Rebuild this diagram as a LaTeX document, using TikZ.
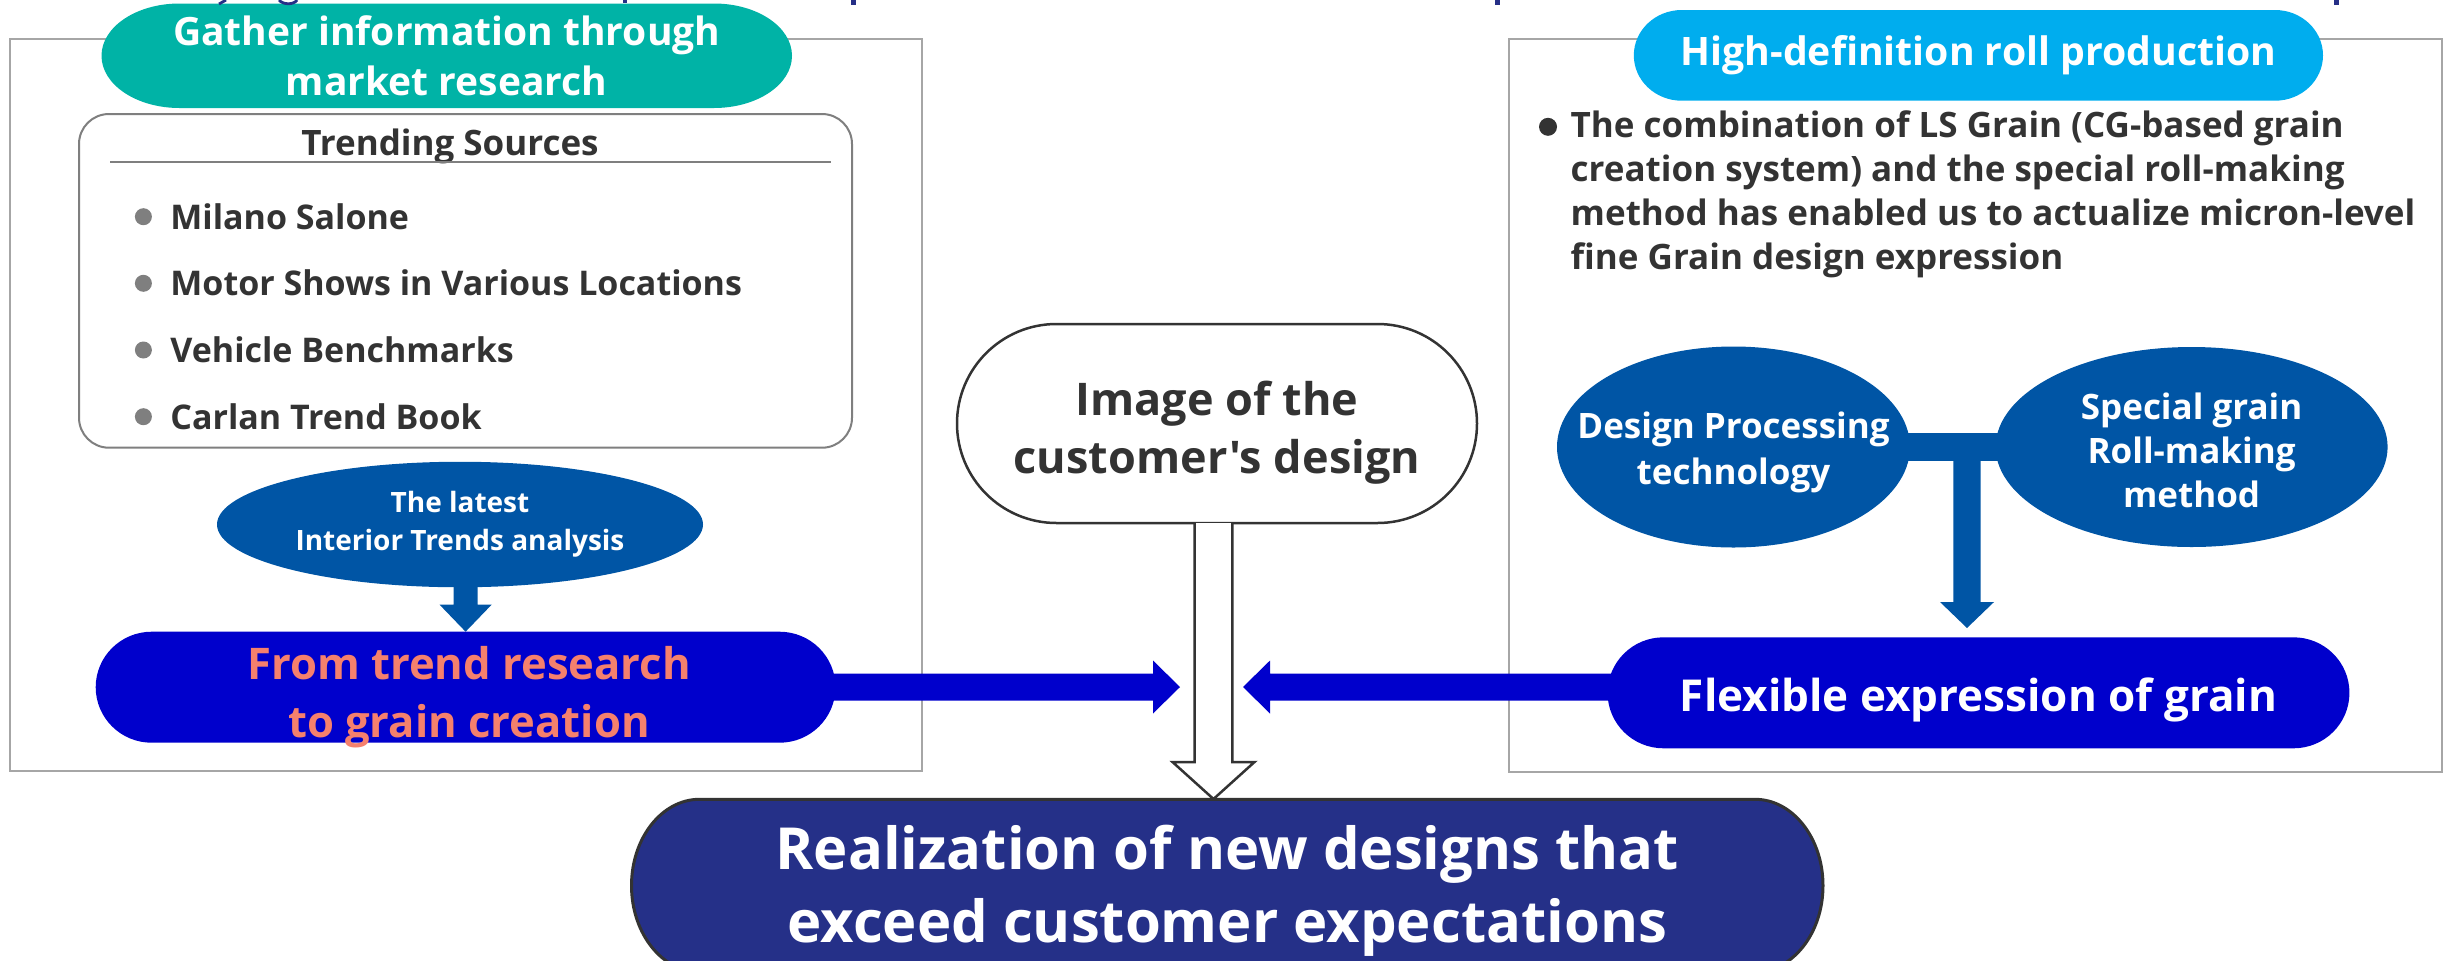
\documentclass[tikz,border=0pt]{standalone}
\usepackage{fontspec}
\setmainfont{Open Sans}
\newfontfamily\nomapfont{Open Sans}[Ligatures=ResetAll]
\usetikzlibrary{calc,shapes.geometric,backgrounds}
\definecolor{teal1}{HTML}{00B3A6}
\definecolor{cyan1}{HTML}{00ADEE}
\definecolor{midblue}{HTML}{0055A5}
\definecolor{pureblue}{HTML}{0000CC}
\definecolor{navy1}{HTML}{253088}
\definecolor{salmon1}{HTML}{F5806D}
\definecolor{txtgray}{HTML}{333333}
\definecolor{panelgray}{HTML}{A6A6A6}
\definecolor{boxgray}{HTML}{7F7F7F}
\definecolor{topnavy}{HTML}{262F87}
% elliptical-ended pill behind node #1, x radius #2, style #3
\newcommand\epill[3]{%
  \path[#3] let \p1=(#1.north east), \p2=(#1.south west), \n1={(\y1-\y2)/2} in
   (\x2+#2,\y1) -- (\x1-#2,\y1) arc[start angle=90,end angle=-90,x radius=#2,y radius=\n1]
   -- (\x2+#2,\y2) arc[start angle=270,end angle=90,x radius=#2,y radius=\n1] -- cycle;}
% fat arrows: #1 from, #2 tip, #3 half shaft, #4 half head, #5 head length, #6 style
\newcommand\fatdown[6]{%
  \path[#6] let \p1=(#1), \p2=(#2) in (\x2-#3,\y1) -- (\x2+#3,\y1) -- (\x2+#3,\y2+#5)
   -- (\x2+#4,\y2+#5) -- (\x2,\y2) -- (\x2-#4,\y2+#5) -- (\x2-#3,\y2+#5) -- cycle;}
\newcommand\fatright[6]{%
  \path[#6] let \p1=(#1), \p2=(#2) in (\x1,\y2+#3) -- (\x2-#5,\y2+#3) -- (\x2-#5,\y2+#4)
   -- (\x2,\y2) -- (\x2-#5,\y2-#4) -- (\x2-#5,\y2-#3) -- (\x1,\y2-#3) -- cycle;}
\newcommand\fatleft[6]{%
  \path[#6] let \p1=(#1), \p2=(#2) in (\x1,\y2+#3) -- (\x2+#5,\y2+#3) -- (\x2+#5,\y2+#4)
   -- (\x2,\y2) -- (\x2+#5,\y2-#4) -- (\x2+#5,\y2-#3) -- (\x1,\y2-#3) -- cycle;}
\newcommand\hollowdown[5]{%
  \path[fill=white] let \p1=(#1), \p2=(#2) in (\x2-#3,\y1) -- (\x2-#3,\y2+#5) -- (\x2-#4,\y2+#5)
   -- (\x2,\y2) -- (\x2+#4,\y2+#5) -- (\x2+#3,\y2+#5) -- (\x2+#3,\y1) -- cycle;
  \draw[txtgray, line width=1.25pt, line join=miter] let \p1=(#1), \p2=(#2) in (\x2-#3,\y1) -- (\x2-#3,\y2+#5) -- (\x2-#4,\y2+#5)
   -- (\x2,\y2) -- (\x2+#4,\y2+#5) -- (\x2+#3,\y2+#5) -- (\x2+#3,\y1);}
\newcommand\fs[2]{\bfseries\fontsize{#1}{#2}\selectfont}
\begin{document}
\begin{tikzpicture}[x=0.5pt,y=-0.5pt,
  every node/.style={inner sep=0pt, outer sep=0pt, align=center},
  panelbox/.style={draw=panelgray, line width=1.2pt},
  whitetxt/.style={text=white},
  graytxt/.style={text=txtgray},
  blueell/.style={ellipse, fill=midblue, text=white}]
\useasboundingbox (0,0) rectangle (2448,960);

% ---------- cut-off text fragments at the top edge ----------
\draw[topnavy, line width=1.4pt] (226,0) -- (219,4);
\draw[topnavy, line width=1.4pt] (279,0) .. controls (283,5) and (294,5) .. (297,0);
\fill[topnavy] (623,0) rectangle (627,3);
\fill[topnavy] (851,0) rectangle (856,4.5);
\fill[topnavy] (1495,0) rectangle (1500,4.5);
\fill[topnavy] (2334,0) rectangle (2339,4.5);

% ---------- left panel ----------
\node[whitetxt, font=\fs{19.5pt}{25pt}, minimum width=345.25pt, minimum height=52.25pt] (gi) at (446.75,55.75) {Gather information through\\market research};
\node[draw=boxgray, line width=1pt, fill=white, rounded corners=15pt, minimum width=386.5pt, minimum height=166.85pt] (ts) at (465.5,280.85) {};
\node[graytxt, font=\fs{17.5pt}{21pt}, anchor=base] (tst) at (450,155.5) {Trending Sources};
\draw[boxgray, line width=1pt] ($(ts.west)+(31,-119.2)$) coordinate (ul1) -- ($(ts.east)+(-21,-119.2)$) coordinate (ul2);
\foreach \yy/\txt/\nm in {216.7/Milano Salone/a, 283.3/Motor Shows in Various Locations/b, 350/Vehicle Benchmarks/c, 416.7/Carlan Trend Book/d}{
  \node[circle, fill=boxgray, minimum size=8.5pt] (dot\nm) at (143.4,\yy) {};
  \node[graytxt, font=\fs{17pt}{22pt}, anchor=base west] (src\nm) at (170.4,\yy+12.5) {\txt};
}
\node[blueell, font=\fs{14pt}{19.2pt}, minimum width=243pt, minimum height=62.75pt] (te) at (460,524.5) {The latest\\Interior Trends analysis};
\node[text=salmon1, font=\fs{21.8pt}{29pt}, minimum width=369.9pt, minimum height=55.5pt] (ft) at (465.6,687.2) {};
\node[text=salmon1, font=\fs{21.8pt}{29pt}] (ftt) at (469,697) {From trend research\\to grain creation};

% ---------- centre ----------
\node[graytxt, minimum width=260pt, minimum height=99.5pt] (img) at (1217,423.5) {};
\node[graytxt, font=\nomapfont\fs{22.5pt}{29pt}] (imgt) at (1217,433) {Image of the\\customer's design};
\node[minimum width=595.75pt, minimum height=86.3pt] (rz) at (1227.25,885.6) {};
\node[whitetxt, font=\fs{29pt}{36.5pt}] (rzt) at (1227.25,891) {Realization of new designs that\\exceed customer expectations};
\coordinate (tipL) at (1180,687);
\coordinate (tipR) at (1243,687);
\coordinate (hs) at (1213.5,523);
\coordinate (he) at (1213.5,799);

% ---------- right panel ----------
\node[whitetxt, font=\fs{19.6pt}{25pt}, minimum width=344.6pt, minimum height=45.35pt] (hd) at (1978.4,55.35) {High-definition roll production};
\node[circle, fill=txtgray, minimum size=9pt] (rb) at (1548,126.8) {};
\node[graytxt, font=\fs{17.5pt}{22pt}, anchor=west, align=left] (rt) at (1570.7,194) {The combination of LS Grain (CG-based grain\\creation system) and the special roll-making\\method has enabled us to actualize micron-level\\fine Grain design expression};
\node[blueell, minimum width=176.5pt, minimum height=100.5pt] (de) at (1733.5,447) {};
\node[text=white, font=\fs{17.5pt}{23pt}] (det) at (1733.5,452) {Design Processing\\technology};
\node[blueell, minimum width=196pt, minimum height=100pt] (sp) at (2191.6,447) {};
\node[text=white, font=\fs{17.5pt}{22pt}] (spt) at (2191.6,450) {Special grain\\Roll-making\\method};
\node[minimum width=370.95pt, minimum height=55.5pt] (fx) at (1978.5,692.8) {};
\node[whitetxt, font=\fs{22pt}{28pt}] (fxt) at (1978.5,700) {Flexible expression of grain};
\coordinate (tbar) at (1967,448);
\coordinate (tipT) at (1967,628);

% ---------- background shapes ----------
\begin{scope}[on background layer]
  \node[panelbox, minimum width=456pt, minimum height=366pt] (lp) at (466,405) {};
  \node[panelbox, minimum width=466.5pt, minimum height=366.5pt] (rp) at (1975.5,405.5) {};
  \fatdown{te.center}{ft.north}{6pt}{13pt}{13.5pt}{fill=midblue}
  \fatright{ft.center}{tipL}{6.75pt}{13.25pt}{13.5pt}{fill=pureblue}
  \fatleft{fx.center}{tipR}{6.75pt}{13.25pt}{13.5pt}{fill=pureblue}
  \path[fill=midblue] let \p1=(de.center), \p2=(sp.center) in (\x1,\y1+6.9pt) rectangle (\x2,\y1-6.9pt);
  \fatdown{tbar}{tipT}{6.8pt}{13.5pt}{13pt}{fill=midblue}
  \epill{gi}{39pt}{fill=teal1}
  \epill{hd}{24pt}{fill=cyan1}
  \epill{ft}{28pt}{fill=pureblue}
  \epill{fx}{28pt}{fill=pureblue}
  \epill{img}{49.75pt}{fill=white, draw=txtgray, line width=1.25pt}
  \epill{rz}{34pt}{fill=navy1, draw=txtgray, line width=1.5pt}
\end{scope}

% hollow arrow from the customer's image to the result
\hollowdown{hs}{he}{9.4pt}{20.5pt}{18.5pt}
\end{tikzpicture}
\end{document}
